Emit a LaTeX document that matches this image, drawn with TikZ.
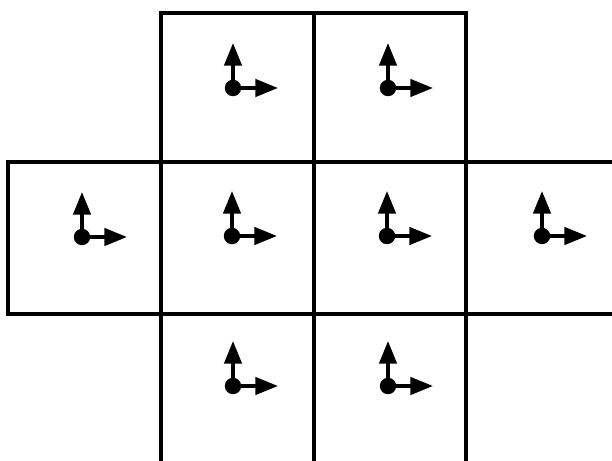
\documentclass[tikz,border=0pt]{standalone}
\usepackage{tikz}
\usetikzlibrary{arrows.meta}
\tikzset{
  cellline/.style={black, line width=2.6pt, line cap=rect, line join=miter},
  basisarrow/.style={black, line width=3pt, -{Triangle[length=0.68cm, width=0.52cm]}},
}

\begin{document}
\begin{tikzpicture}[x=0.03cm,y=-0.03cm]
    \useasboundingbox (0,0) rectangle (612,461);

    % cell borders
    \draw[cellline] (161,13) -- (466,13);
    \draw[cellline] (8,162) -- (612,162);
    \draw[cellline] (8,314) -- (612,314);
    \draw[cellline] (8,162) -- (8,314);
    \foreach \x in {161,314,466} {
        \draw[cellline] (\x,13) -- (\x,461);
    }

    % local frame in each cell
    \foreach \cx/\cy in {233/88,388/88,82/237,232/236,387/236,542/236,233/386,388/386} {
        \coordinate (origin) at (\cx,\cy);
        \path (origin) ++(0,-45) coordinate (ytip);
        \path (origin) ++(45,0) coordinate (xtip);
        \draw[basisarrow] (origin) -- (ytip);
        \draw[basisarrow] (origin) -- (xtip);
        \fill[black] (origin) circle (8.2);
    }
\end{tikzpicture}
\end{document}
